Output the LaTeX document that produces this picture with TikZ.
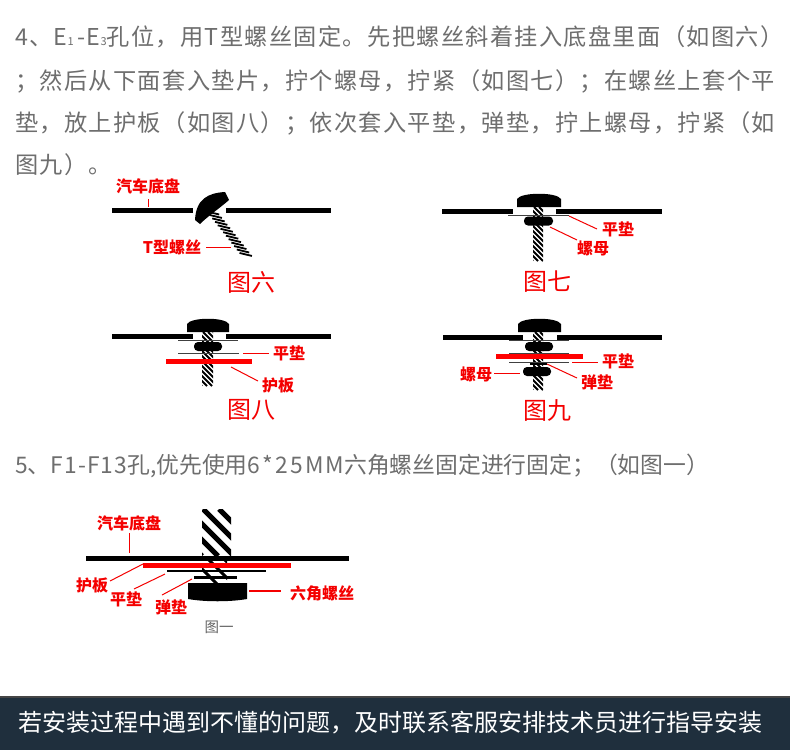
\documentclass[tikz,border=0pt]{standalone}
\usepackage{fontspec}
\setmainfont{Noto Sans CJK SC}
\newfontfamily\spacedcjk[LetterSpace=5.8]{Noto Sans CJK SC}
\newfontfamily\widelatin[LetterSpace=5]{Noto Sans CJK SC}
\newfontfamily\widerlatin[LetterSpace=9.5]{Noto Sans CJK SC}
\definecolor{bodygray}{HTML}{6E6E6E}
\definecolor{barblue}{HTML}{1F2F3D}
\definecolor{bartop}{HTML}{454545}
\definecolor{lblred}{HTML}{F40000}
\newcommand{\fsz}[1]{\fontsize{#1}{#1}\selectfont}
\tikzset{
  x=1pt,y=-1pt,
  bodytext/.style={anchor=base west,inner sep=0pt,text=bodygray,font=\spacedcjk\fsz{23.2}},
  tighttext/.style={anchor=base west,inner sep=0pt,text=bodygray,font=\fsz{22.8}},
  redlabel/.style={inner sep=0pt,text=lblred,font=\fsz{16}\bfseries},
  caption/.style={inner sep=0pt,text=lblred,font=\fsz{24}},
  leader/.style={draw=lblred,line width=1pt},
  plate/.style={line width=5pt,black},
  redplate/.style={line width=5pt,red},
  washer/.style={line width=1pt,black!75},
}
% hatched shank: x1,y1,x2,y2,period,stripe width
\newcommand{\hatchbox}[6]{%
  \begin{scope}
    \clip (#1,#2) rectangle (#3,#4);
    \pgfmathsetmacro{\hh}{#4-#2}
    \pgfmathsetmacro{\hstart}{#1-\hh}
    \pgfmathsetmacro{\hnext}{\hstart+#5}
    \foreach \hx in {\hstart,\hnext,...,#3}
      \draw[line width=#6,black] (\hx,#2) -- ++(\hh,\hh);
  \end{scope}}
% dome head: left, right, bottom, top
\newcommand{\domehead}[4]{%
  \fill[black] (#1,#3) -- (#1,{#4+6}) .. controls ({#1+4},{#4-1}) and ({#2-4},{#4-1}) .. (#2,{#4+6}) -- (#2,#3) -- cycle;}
\newcommand{\nutshape}[4]{%
  \fill[black,rounded corners=4pt] (#1,#3) rectangle (#2,#4);}
\newcommand{\leaderline}[5]{%
  \coordinate (#1a) at (#2,#3); \coordinate (#1b) at (#4,#5);
  \draw[leader] (#1a) -- (#1b);}
\begin{document}
\begin{tikzpicture}
\useasboundingbox (0,0) rectangle (790,750);
\fill[white] (0,0) rectangle (790,750);

% body text
\node[bodytext] (l1) at (15,45.5) {4、E{\fsz{11}1}\,-E{\fsz{11}3}孔位，用T型螺丝固定。先把螺丝斜着挂入底盘里面（如图六）};
\node[bodytext] (l2) at (15,89.5) {；然后从下面套入垫片，拧个螺母，拧紧（如图七）；在螺丝上套个平};
\node[bodytext] (l3) at (15,131.5) {垫，放上护板（如图八）；依次套入平垫，弹垫，拧上螺母，拧紧（如};
\node[bodytext] (l4) at (15,173.5) {图九）。};
\node[tighttext] (l5) at (15,473.5) {5、{\widelatin F1-F13}孔,优先使用{\widerlatin 6*25MM}六角螺丝固定进行固定；（如图一）};

% ---- Figure 6
\draw[plate] (112,210.5) -- (193,210.5);
\draw[plate] (226,210.5) -- (331,210.5);
\foreach \s in {0,4.4,...,53} {
  \draw[line width=1.8pt,black] ({213+0.62*\s-6.2},{213+0.785*\s-1.5}) -- ({213+0.62*\s+6.2},{213+0.785*\s+1.5});
}
\fill[black] (195,220) -- (200,224) .. controls (208,216) and (220,208) .. (229,200)
  -- (225,192) .. controls (208,193) and (196,199) .. cycle;
\node[redlabel] (f6a) at (148,186) {汽车底盘};
\node[redlabel] (f6b) at (172,247) {T型螺丝};
\leaderline{f6la}{148}{199}{148}{207}
\leaderline{f6lb}{206}{247}{231}{247}
\node[caption] (f6c) at (251,282) {图六};

% ---- Figure 7
\draw[plate] (442,211) -- (513,211);
\draw[plate] (556,211) -- (662,211);
\hatchbox{533}{207}{543}{261}{5}{1.8pt}
\domehead{517}{561}{207}{193}
\draw[washer] (508,215) -- (569,215);
\nutshape{524}{553}{216.5}{225.5}
\node[redlabel] (f7a) at (618,229) {平垫};
\node[redlabel] (f7b) at (593,248) {螺母};
\leaderline{f7la}{569}{216}{597}{229}
\leaderline{f7lb}{550}{227}{577}{240}
\node[caption] (f7c) at (547,282) {图七};

% ---- Figure 8
\draw[plate] (112,336.5) -- (193,336.5);
\draw[plate] (226,336.5) -- (331,336.5);
\hatchbox{202}{332}{213}{386}{5}{1.8pt}
\domehead{187}{229}{332}{318}
\draw[washer] (178,340) -- (238,340);
\nutshape{194}{222}{342}{351}
\draw[washer] (178,353) -- (239,353);
\draw[redplate] (166,361.5) -- (252,361.5);
\node[redlabel] (f8a) at (289,353) {平垫};
\node[redlabel] (f8b) at (278,385) {护板};
\leaderline{f8la}{243}{353}{269}{353}
\leaderline{f8lb}{231}{367}{258}{381}
\node[caption] (f8c) at (251,410) {图八};

% ---- Figure 9
\draw[plate] (443,337) -- (523,337);
\draw[plate] (557,337) -- (662,337);
\hatchbox{533}{332}{543}{390}{5}{1.8pt}
\domehead{518}{561}{332}{318}
\draw[washer] (509,340) -- (569,340);
\nutshape{525}{553}{342}{351}
\draw[washer] (509,353) -- (569,353);
\draw[redplate] (496,356.5) -- (583,356.5);
\draw[washer] (509,362) -- (569,362);
\draw[line width=1.6pt,black] (530,364) -- (547,364);
\nutshape{523}{551}{367}{376}
\node[redlabel] (f9a) at (618,361) {平垫};
\node[redlabel] (f9b) at (597,382) {弹垫};
\node[redlabel] (f9d) at (476,374) {螺母};
\leaderline{f9la}{572}{362}{598}{362}
\leaderline{f9lb}{547}{364}{577}{378}
\leaderline{f9ld}{494}{373}{520}{373}
\node[caption] (f9c) at (547,411) {图九};

% ---- Figure 1
\hatchbox{202}{509}{231}{556}{16}{5pt}
\hatchbox{202}{556}{227}{585}{16}{3pt}
\draw[plate] (86,558) -- (349,558);
\draw[redplate] (143,565.5) -- (291,565.5);
\draw[line width=2pt,black] (167,571) -- (266,571);
\draw[line width=3pt,black] (194,577) -- (237,577);
\fill[black] (188,583) -- (247,583) -- (247,599) .. controls (230,602) and (205,602) .. (188,599) -- cycle;
\node[redlabel] (f1a) at (129,523) {汽车底盘};
\node[redlabel] (f1b) at (92,585) {护板};
\node[redlabel] (f1d) at (126,599) {平垫};
\node[redlabel] (f1e) at (171,607) {弹垫};
\node[redlabel] (f1f) at (322,593) {六角螺丝};
\leaderline{f1la}{129}{533}{129}{553}
\leaderline{f1lb}{110}{581}{143}{564}
\leaderline{f1ld}{134}{589}{165}{574}
\leaderline{f1le}{162}{595}{192}{579}
\coordinate (f1lfa) at (249,591); \coordinate (f1lfb) at (281,591);
\draw[leader,line width=2pt] (f1lfa) -- (f1lfb);
\node[inner sep=0pt,text=black!60,font=\fsz{14.5}] (f1c) at (219,627) {图一};

% ---- Bottom bar
\fill[barblue] (0,696) rectangle (790,750);
\fill[bartop] (0,696) rectangle (790,698);
\node[inner sep=0pt,text=white,font=\fsz{24}] (bar) at (391,723) {若安装过程中遇到不懂的问题，及时联系客服安排技术员进行指导安装};
\end{tikzpicture}
\end{document}
